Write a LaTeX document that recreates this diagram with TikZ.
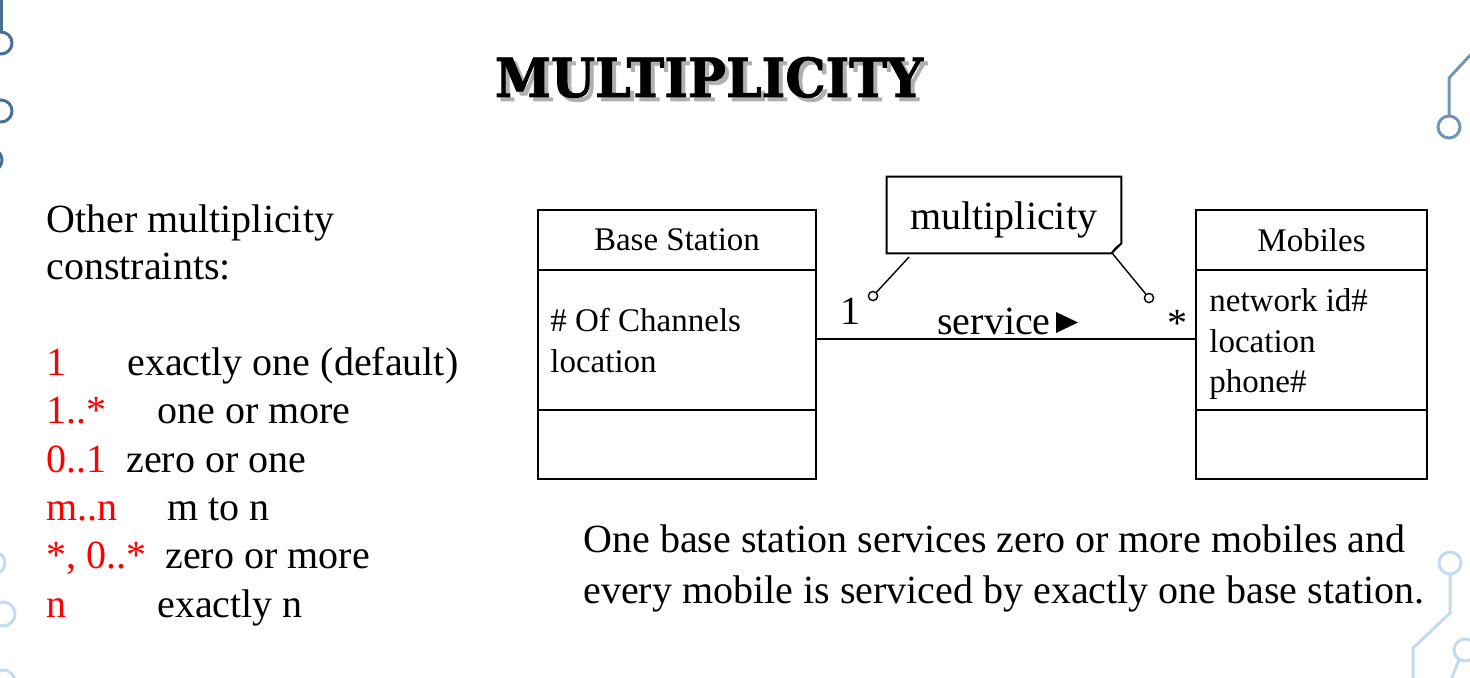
\documentclass[tikz,border=0pt]{standalone}
\usepackage{fontspec}
\usepackage{graphicx}
\setmainfont{Liberation Serif}
\newfontfamily\titlefont{DejaVu Serif}[BoldFeatures={FakeBold=1.5}]
\definecolor{decodark}{HTML}{4A6E94}
\definecolor{decomid}{HTML}{7196B8}
\definecolor{decolight}{HTML}{C4DBEE}
\definecolor{shadowgray}{HTML}{B0B0B0}
\tikzset{
  big/.style={font=\fontsize{20}{24}\selectfont, inner sep=0pt},
  mid/.style={font=\fontsize{16.5}{20}\selectfont, inner sep=0pt},
  txt/.style={anchor=base west},
  red/.style={text=red},
  comp/.style={draw, line width=1pt, inner sep=0pt, minimum width=139pt},
  deco/.style={line width=1.5pt},
  pin/.style={circle, draw, line width=0.7pt, inner sep=0pt, minimum size=4.6pt},
  assoc/.style={line width=0.8pt},
}
\newcommand{\titleword}{\resizebox{214pt}{20pt}{\titlefont\bfseries MULTIPLICITY}}
\begin{document}
\begin{tikzpicture}[x=0.5pt,y=-0.5pt]
\useasboundingbox (0,0) rectangle (1470,678);
% decorations
\draw[deco, decodark] (1,0) -- (1,32);
\draw[deco, decodark] (1,43) circle (11);
\draw[deco, decodark] (1,111) circle (11);
\draw[deco, decodark] (-9,160) circle (11);
\draw[deco, decomid] (1475,50) -- (1449,78) -- (1449,116);
\draw[deco, decomid] (1449,127) circle (11);
\draw[deco, decolight] (1450,563) circle (11);
\draw[deco, decolight] (1450,574) -- (1450,613) -- (1413,648) -- (1413,680);
\draw[deco, decolight] (1465,650) circle (11);
\draw[deco, decolight] (1459,660) -- (1451,680);
\draw[deco, decolight] (-6,563) circle (11);
\draw[deco, decolight] (3,614) circle (12);
\draw[deco, decolight] (3,682) circle (12);
% title with its shadow in one node
\node[anchor=base, inner sep=0pt] (title) at (709,97)
  {\makebox[0pt][l]{\hspace{2pt}\raisebox{-2pt}{\color{shadowgray}\titleword}}\titleword};
% left text
\node[big, txt] (other1) at (46,233) {Other multiplicity};
\node[big, txt] (other2) at (46,280) {constraints:};
\node[big, txt, red] (k1) at (46,375) {1};
\node[big, txt] (v1) at (127,375) {exactly one (default)};
\node[big, txt, red] (k2) at (46,423) {1..*};
\node[big, txt] (v2) at (157,423) {one or more};
\node[big, txt, red] (k3) at (46,472) {0..1};
\node[big, txt] (v3) at (126,472) {zero or one};
\node[big, txt, red] (k4) at (46,520) {m..n};
\node[big, txt] (v4) at (167,520) {m to n};
\node[big, txt, red] (k5) at (46,568) {*, 0..*};
\node[big, txt] (v5) at (165,568) {zero or more};
\node[big, txt, red] (k6) at (46,617) {n};
\node[big, txt] (v6) at (157,617) {exactly n};
% Base Station class
\node[comp, mid, minimum height=30pt] (bshead) at (677,240) {Base Station};
\node[comp, minimum height=70pt] (bsattr) at (677,340) {};
\node[comp, minimum height=34.5pt] (bsops) at (677,444.5) {};
\node[mid, txt] (bsa1) at (550,331) {\# Of Channels};
\node[mid, txt] (bsa2) at (550,372) {location};
% Mobiles class
\node[comp, mid, minimum width=115.5pt, minimum height=30pt] (mobhead) at (1311.5,240) {Mobiles};
\node[comp, minimum width=115.5pt, minimum height=70pt] (mobattr) at (1311.5,340) {};
\node[comp, minimum width=115.5pt, minimum height=34.5pt] (mobops) at (1311.5,444.5) {};
\node[mid, txt] (moa1) at (1209,312) {network id\#};
\node[mid, txt] (moa2) at (1209,352) {location};
\node[mid, txt] (moa3) at (1209,392) {phone\#};
% association
\coordinate (assocy) at (0,339);
\draw[assoc] (bsattr.east |- assocy) -- (mobattr.west |- assocy);
\node[big, txt] (m1) at (840,325) {1};
\node[big, txt] (mstar) at (1167,336) {*};
\node[big, txt] (service) at (937,335) {service};
\fill (1056,312) -- (1078,322.5) -- (1056,333) -- cycle;
% note
\node[big, minimum width=117pt, minimum height=38pt] (note) at (1004,215) {};
\node[big, txt] (notetext) at (910,230) {multiplicity};
\draw[line width=1pt] (note.north west) -- (note.north east) -- ([yshift=5pt]note.south east)
  -- ([xshift=-5pt]note.south east) -- (note.south west) -- cycle;
\draw[line width=0.6pt] ([xshift=-5pt]note.south east) .. controls ([xshift=-3pt,yshift=3pt]note.south east) .. ([yshift=5pt]note.south east);
\node[pin] (pinl) at (873,296) {};
\node[pin] (pinr) at (1149,298) {};
\coordinate (notel) at (909,257);
\coordinate (noter) at (1112,253);
\draw[line width=0.7pt] (notel) -- (pinl);
\draw[line width=0.7pt] (noter) -- (pinr);
% sentence
\node[big, txt] (sent1) at (583,552) {One base station services zero or more mobiles and};
\node[big, txt] (sent2) at (583,603) {every mobile is serviced by exactly one base station.};
\end{tikzpicture}
\end{document}
